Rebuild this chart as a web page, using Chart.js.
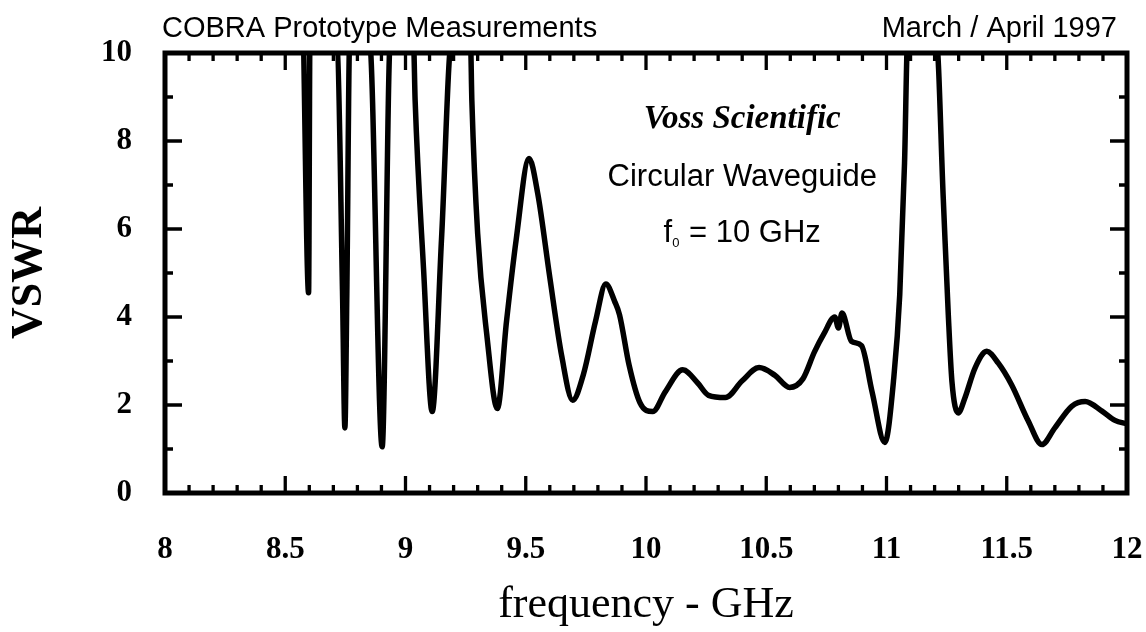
<!DOCTYPE html>
<html>
<head>
<meta charset="utf-8">
<script src="https://cdn.jsdelivr.net/npm/chart.js@4/dist/chart.umd.min.js"></script>
<style>
  html, body { margin: 0; padding: 0; background: #fff; }
</style>
</head>
<body>
<canvas id="vswrChart" width="1146" height="632"></canvas>
<script>
// measured VSWR of the prototype (values above 10 run off the top of the frame)
const freq = [
  8.575, 8.597, 8.603,
  8.715, 8.738, 8.748, 8.756, 8.768,
  8.850, 8.903, 8.937,
  9.033, 9.040, 9.075, 9.111, 9.150, 9.192,
  9.270, 9.276, 9.300, 9.338, 9.382, 9.420, 9.460, 9.514,
  9.550, 9.600, 9.650, 9.695, 9.740, 9.790, 9.833, 9.870, 9.890, 9.930, 9.975,
  10.028, 10.080, 10.153, 10.215, 10.260, 10.330, 10.400, 10.470, 10.535, 10.597,
  10.653, 10.700, 10.740, 10.785, 10.800, 10.815, 10.854, 10.896, 10.940, 10.993,
  11.030, 11.055, 11.075, 11.088,
  11.207, 11.236, 11.257, 11.272, 11.298, 11.326, 11.368, 11.417, 11.465, 11.520,
  11.590, 11.646, 11.700, 11.770, 11.826, 11.896, 11.950, 12.000
];
const vswr = [
  10.6, 4.55, 10.6,
  10.3, 4.6, 1.48, 4.5, 10.3,
  10.3, 1.05, 10.3,
  10.3, 8.93, 5.1, 1.85, 5.8, 10.3,
  10.3, 8.9, 5.9, 3.6, 1.92, 3.9, 5.75, 7.6,
  6.8, 4.9, 3.1, 2.11, 2.7, 3.9, 4.75, 4.35, 4.05, 2.9, 2.05,
  1.85, 2.3, 2.8, 2.5, 2.22, 2.17, 2.55, 2.85, 2.68, 2.4,
  2.6, 3.2, 3.62, 4.0, 3.75, 4.09, 3.45, 3.35, 2.3, 1.15,
  2.6, 4.5, 7.5, 10.3,
  10.3, 6.7, 4.05, 2.54, 1.82, 2.16, 2.84, 3.22, 2.95, 2.46,
  1.63, 1.1, 1.48, 1.97, 2.08, 1.86, 1.65, 1.57
];

const xTickValues = [8, 8.5, 9, 9.5, 10, 10.5, 11, 11.5, 12];
const xTickLabels = ['8', '8.5', '9', '9.5', '10', '10.5', '11', '11.5', '12'];
const yTickValues = [0, 2, 4, 6, 8, 10];
const yTickLabels = ['0', '2', '4', '6', '8', '10'];

const serif = '"Liberation Serif", "Times New Roman", serif';
const sans = '"Liberation Sans", Arial, sans-serif';

// frame, inward ticks and the notes written on the plot
const framePlugin = {
  id: 'frame',
  afterDatasetsDraw(chart) {
    const { ctx, chartArea: a, scales: { x, y } } = chart;
    ctx.save();
    ctx.strokeStyle = '#000';
    ctx.fillStyle = '#000';
    ctx.lineCap = 'butt';
    ctx.lineWidth = 3.3;
    for (let i = 0; i <= 40; i++) {
      const px = x.getPixelForValue(8 + i * 0.1);
      const len = i % 5 === 0 ? 17 : 8;
      ctx.beginPath();
      ctx.moveTo(px, a.bottom); ctx.lineTo(px, a.bottom - len);
      ctx.moveTo(px, a.top); ctx.lineTo(px, a.top + len);
      ctx.stroke();
    }
    for (let j = 0; j <= 10; j++) {
      const py = y.getPixelForValue(j);
      const len = j % 2 === 0 ? 17 : 8;
      ctx.beginPath();
      ctx.moveTo(a.left, py); ctx.lineTo(a.left + len, py);
      ctx.moveTo(a.right, py); ctx.lineTo(a.right - len, py);
      ctx.stroke();
    }
    ctx.lineWidth = 5;
    ctx.strokeRect(a.left, a.top, a.right - a.left, a.bottom - a.top);

    // header line
    ctx.font = '29px ' + sans;
    ctx.textBaseline = 'alphabetic';
    ctx.textAlign = 'left';
    ctx.fillText('COBRA Prototype Measurements', a.left - 3, a.top - 16);
    ctx.textAlign = 'right';
    ctx.fillText('March / April 1997', a.right - 10, a.top - 16);

    // notes
    const cx = x.getPixelForValue(10.4);
    ctx.textAlign = 'center';
    ctx.textBaseline = 'middle';
    ctx.font = 'italic bold 33px ' + serif;
    ctx.fillText('Voss Scientific', cx, y.getPixelForValue(8.48));
    ctx.font = '31px ' + sans;
    ctx.fillText('Circular Waveguide', cx, y.getPixelForValue(7.18));

    const fy = y.getPixelForValue(5.91);
    const big = '31px ' + sans, small = '13px ' + sans;
    ctx.font = big;
    const wf = ctx.measureText('f').width;
    const wr = ctx.measureText(' = 10 GHz').width;
    ctx.font = small;
    const ws = ctx.measureText('0').width + 1;
    const sx = cx - (wf + ws + wr) / 2;
    ctx.textAlign = 'left';
    ctx.font = big;
    ctx.fillText('f', sx, fy);
    ctx.font = small;
    ctx.fillText('0', sx + wf, fy + 10);
    ctx.font = big;
    ctx.fillText(' = 10 GHz', sx + wf + ws, fy);
    ctx.restore();
  }
};

new Chart(document.getElementById('vswrChart').getContext('2d'), {
  type: 'line',
  data: {
    datasets: [{
      label: 'VSWR',
      data: freq.map((f, i) => ({ x: f, y: vswr[i] })),
      borderColor: '#000',
      borderWidth: 5.5,
      borderCapStyle: 'round',
      borderJoinStyle: 'round',
      pointRadius: 0,
      cubicInterpolationMode: 'monotone',
      clip: 0,
      fill: false
    }]
  },
  options: {
    responsive: false,
    animation: false,
    devicePixelRatio: 1,
    layout: { padding: { top: 53, right: 19, left: 0, bottom: 0 } },
    plugins: {
      legend: { display: false },
      tooltip: { enabled: false }
    },
    scales: {
      x: {
        type: 'linear',
        min: 8,
        max: 12,
        grid: { display: false },
        border: { display: false },
        afterBuildTicks: s => { s.ticks = xTickValues.map(v => ({ value: v })); },
        afterFit: s => { s.height = 139; s.paddingLeft = 0; s.paddingRight = 0; },
        ticks: {
          autoSkip: false,
          maxRotation: 0,
          padding: 30,
          color: '#000',
          font: { family: serif, size: 31, weight: 'bold' },
          callback: (v, i) => xTickLabels[i]
        },
        title: {
          display: true,
          text: 'frequency - GHz',
          color: '#000',
          font: { family: serif, size: 44 },
          padding: { top: 18, bottom: 0 }
        }
      },
      y: {
        type: 'linear',
        min: 0,
        max: 10,
        grid: { display: false },
        border: { display: false },
        afterBuildTicks: s => { s.ticks = yTickValues.map(v => ({ value: v })); },
        afterFit: s => { s.width = 165; s.paddingTop = 0; s.paddingBottom = 0; },
        ticks: {
          padding: 25,
          color: '#000',
          font: { family: serif, size: 31, weight: 'bold' },
          callback: (v, i) => yTickLabels[i]
        },
        title: {
          display: true,
          text: 'VSWR',
          color: '#000',
          font: { family: serif, size: 44, weight: 'bold' },
          padding: { top: 3, bottom: 0 }
        }
      }
    }
  },
  plugins: [framePlugin]
});
</script>
</body>
</html>
